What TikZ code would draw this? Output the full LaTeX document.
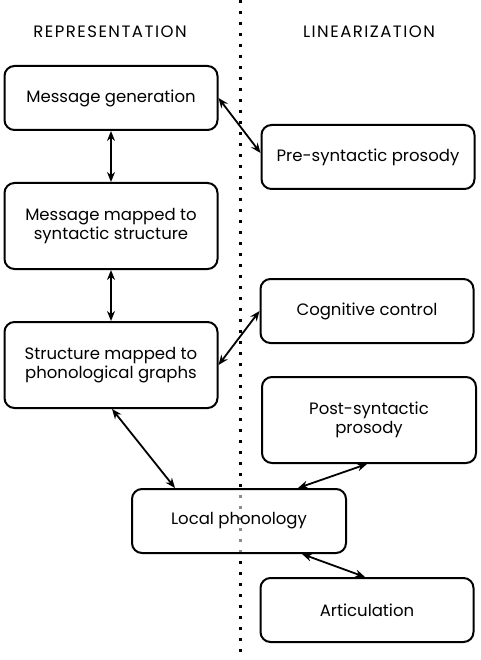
\documentclass[tikz,border=0pt]{standalone}
\usepackage{fontspec}
\setmainfont{Poppins}
\usetikzlibrary{arrows.meta}

\begin{document}
\begin{tikzpicture}[x=1pt,y=-1pt,
    box/.style={draw,line width=2pt,rounded corners=10pt,fill=white,fill opacity=0.55,
      text opacity=1,align=center,inner sep=0pt,font=\fontsize{16.5}{19}\selectfont},
    small/.style={minimum width=213pt,minimum height=64pt},
    tall/.style={minimum width=213pt,minimum height=86pt},
    head/.style={font=\fontsize{16.5}{19}\selectfont\addfontfeature{LetterSpace=9}},
    link/.style={{Stealth[length=10pt,width=8pt]}-{Stealth[length=10pt,width=8pt]},line width=1.8pt}]
  \useasboundingbox (0,0) rectangle (480,660);
  \draw[line width=3pt,dash pattern=on 3pt off 8pt] (240,0) -- (240,660);
  \node[head] (rep) at (110,32) {REPRESENTATION};
  \node[head] (lin) at (369,32) {LINEARIZATION};
  \node[box,small] (gen) at (111,98) {Message generation};
  \node[box,tall] (syn) at (111,226) {Message mapped to\\syntactic structure};
  \node[box,tall] (phon) at (111,365) {Structure mapped to\\phonological graphs};
  \node[box,small] (pre) at (368,157) {Pre-syntactic prosody};
  \node[box,small] (cog) at (367,311) {Cognitive control};
  \node[box,tall,minimum width=214pt] (post) at (369,420) {Post-syntactic\\prosody};
  \node[box,small,minimum width=214pt] (loc) at (239,521) {Local phonology};
  \node[box,small] (art) at (367,610) {Articulation};
  \draw[link] (gen) -- (syn);
  \draw[link] (syn) -- (phon);
  \draw[link] (gen.east) -- ([yshift=4pt]pre.west);
  \draw[link] (phon.east) -- (cog.west);
  \draw[link] ([xshift=1pt]phon.south) -- ([xshift=-64pt]loc.north);
  \draw[link] ([xshift=-2pt]post.south) -- ([xshift=59pt]loc.north);
  \draw[link] ([xshift=63pt]loc.south) -- ([xshift=-2pt]art.north);
\end{tikzpicture}
\end{document}
